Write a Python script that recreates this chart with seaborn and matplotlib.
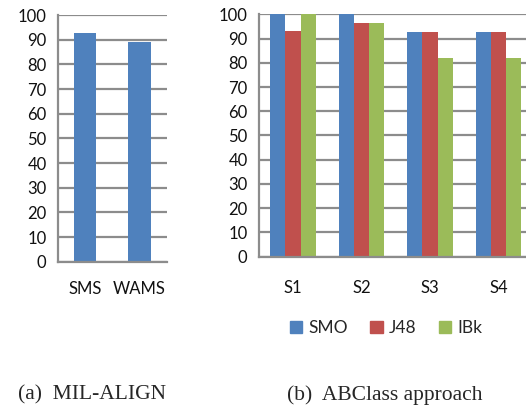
import pandas as pd
import matplotlib.pyplot as plt
import seaborn as sns

# data
mil_methods = ["SMS", "WAMS"]
mil_scores = [92.6, 89.1]

sets = ["S1", "S2", "S3", "S4"]
classifiers = ["SMO", "J48", "IBk"]
smo_scores = [100, 100, 92.7, 92.7]
j48_scores = [93.1, 96.4, 92.7, 92.7]
ibk_scores = [100, 96.4, 81.8, 81.8]

colors = ["#4F81BD", "#C0504D", "#9BBB59"]
grid_col = "#8c8c8c"

sns.set_style("white")
plt.rcParams['font.family'] = ['Lato', 'DejaVu Sans']

df_a = pd.DataFrame({"method": mil_methods, "score": mil_scores})
df_b = pd.DataFrame({
    "set": sets * 3,
    "clf": [c for c in classifiers for _ in sets],
    "score": smo_scores + j48_scores + ibk_scores,
})

fig = plt.figure(figsize=(5.26, 4.07), dpi=100)
W, H = 526, 407
ax1 = fig.add_axes([57.7 / W, 1 - 261.7 / H, 109 / W, 246.7 / H])
ax2 = fig.add_axes([258.7 / W, 1 - 256.7 / H, 274 / W, 242.4 / H])


def style_axes(ax, n, pad):
    ax.set_ylim(0, 100)
    ax.set_xlim(-0.5, n - 0.5)
    ax.set_yticks(range(0, 101, 10))
    ax.yaxis.grid(True, color=grid_col, linewidth=1.6)
    ax.set_axisbelow(True)
    for s in ["top", "right"]:
        ax.spines[s].set_visible(False)
    for s in ["left", "bottom"]:
        ax.spines[s].set_color(grid_col)
        ax.spines[s].set_linewidth(1.6)
    ax.set_xticks([i - 0.5 for i in range(n + 1)], minor=True)
    ax.tick_params(axis="x", which="minor", length=5, width=1.6, color=grid_col, direction="out")
    ax.tick_params(axis="x", which="major", length=0, pad=pad, labelsize=12, labelcolor="#111111")
    ax.tick_params(axis="y", length=5, width=1.6, color=grid_col, labelsize=12, pad=3,
                   labelcolor="#111111")
    ax.set_xlabel("")
    ax.set_ylabel("")


sns.barplot(data=df_a, x="method", y="score", color=colors[0], width=0.42,
            saturation=1, ax=ax1)
style_axes(ax1, len(mil_methods), 14)

sns.barplot(data=df_b, x="set", y="score", hue="clf", palette=colors, width=0.67,
            saturation=1, gap=0, ax=ax2)
style_axes(ax2, len(sets), 17)
ax2.get_legend().remove()
for p in ax1.patches + ax2.patches:
    p.set_linewidth(0)

handles = [plt.Rectangle((0, 0), 1, 1, color=c) for c in colors]
fig.legend(handles, classifiers, loc="center", bbox_to_anchor=(386 / W, 1 - 328 / H),
           ncol=3, frameon=False, fontsize=12.5, handlelength=0.7, handleheight=0.7,
           handletextpad=0.35, columnspacing=1.3)

fig.text(92 / W, 1 - 395 / H, "(a)  MIL-ALIGN", ha="center", va="center",
         family="Liberation Serif", fontsize=15.5)
fig.text(385 / W, 1 - 395 / H, "(b)  ABClass approach", ha="center", va="center",
         family="Liberation Serif", fontsize=15.5)

fig.savefig("out.png", dpi=100)
